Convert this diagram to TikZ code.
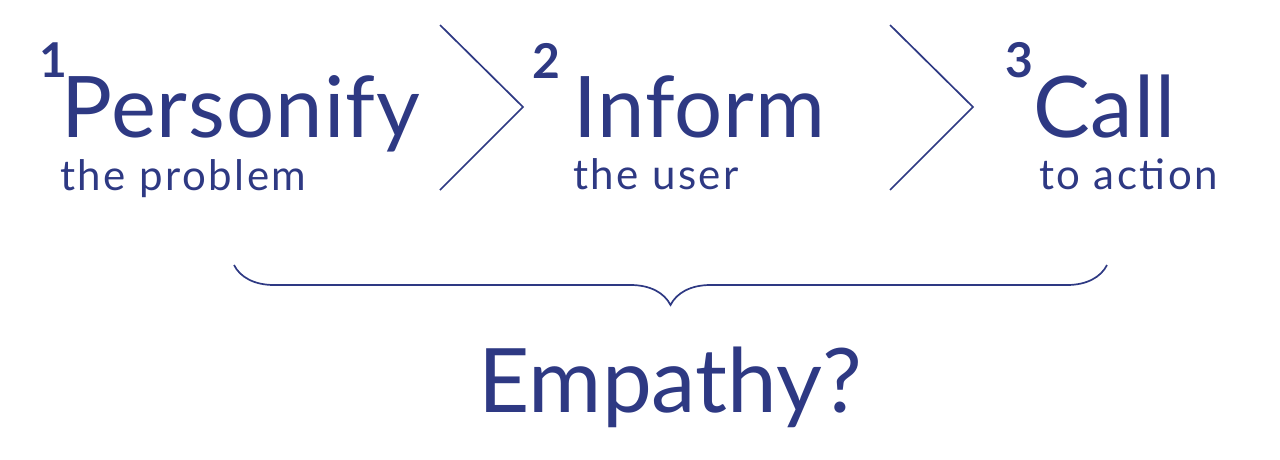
\documentclass[tikz,border=0pt]{standalone}
\usepackage{fontspec}
\setmainfont{Lato}
\newfontfamily\titrefont[LetterSpace=1.2]{Lato}
\newfontfamily\sousfont[LetterSpace=6]{Lato}
\usetikzlibrary{decorations.pathreplacing}
\definecolor{bleu}{RGB}{46,57,131}
\tikzset{
  titre/.style={anchor=base west, inner sep=0pt, font=\titrefont\fontsize{85}{85}\selectfont},
  sous/.style={anchor=base west, inner sep=0pt, font=\sousfont\fontsize{42}{42}\selectfont},
  num/.style={anchor=base west, inner sep=0pt, font=\bfseries\fontsize{48}{48}\selectfont},
  chevron/.style={line width=1.7pt},
}
\begin{document}
\begin{tikzpicture}[x=1pt,y=-1pt,color=bleu]
\useasboundingbox (0,0) rectangle (1280,459);

% Etape 1
\node[num] (num1) at (39,77) {1};
\node[titre] (perso) at (61,137) {Personify};
\node[sous] (perso-sous) at (60,190) {the problem};

% Chevron 1
\coordinate (ch1-haut) at (440,25);
\coordinate (ch1-pointe) at (523,107);
\coordinate (ch1-bas) at (440,190);
\draw[chevron] (ch1-haut) -- (ch1-pointe) -- (ch1-bas);

% Etape 2
\node[num] (num2) at (532,78) {2};
\node[titre] (inform) at (573,137) {Inform};
\node[sous] (inform-sous) at (573,189) {the user};

% Chevron 2
\coordinate (ch2-haut) at (890,25);
\coordinate (ch2-pointe) at (973,107);
\coordinate (ch2-bas) at (890,190);
\draw[chevron] (ch2-haut) -- (ch2-pointe) -- (ch2-bas);

% Etape 3
\node[num] (num3) at (1005,77) {3};
\node[titre] (call) at (1033,137) {Call};
\node[sous] (call-sous) at (1039,189) {to action};

% Accolade
\coordinate (acc-d) at (1107,265);
\coordinate (acc-g) at (234,265);
\draw[chevron, decorate, decoration={brace, amplitude=40pt}]
(acc-d)
--
(acc-g);

\node[anchor=base, inner sep=0pt, font=\fontsize{89}{89}\selectfont]
(empathie) at (670,412)
{Empathy?};

\end{tikzpicture}
\end{document}
